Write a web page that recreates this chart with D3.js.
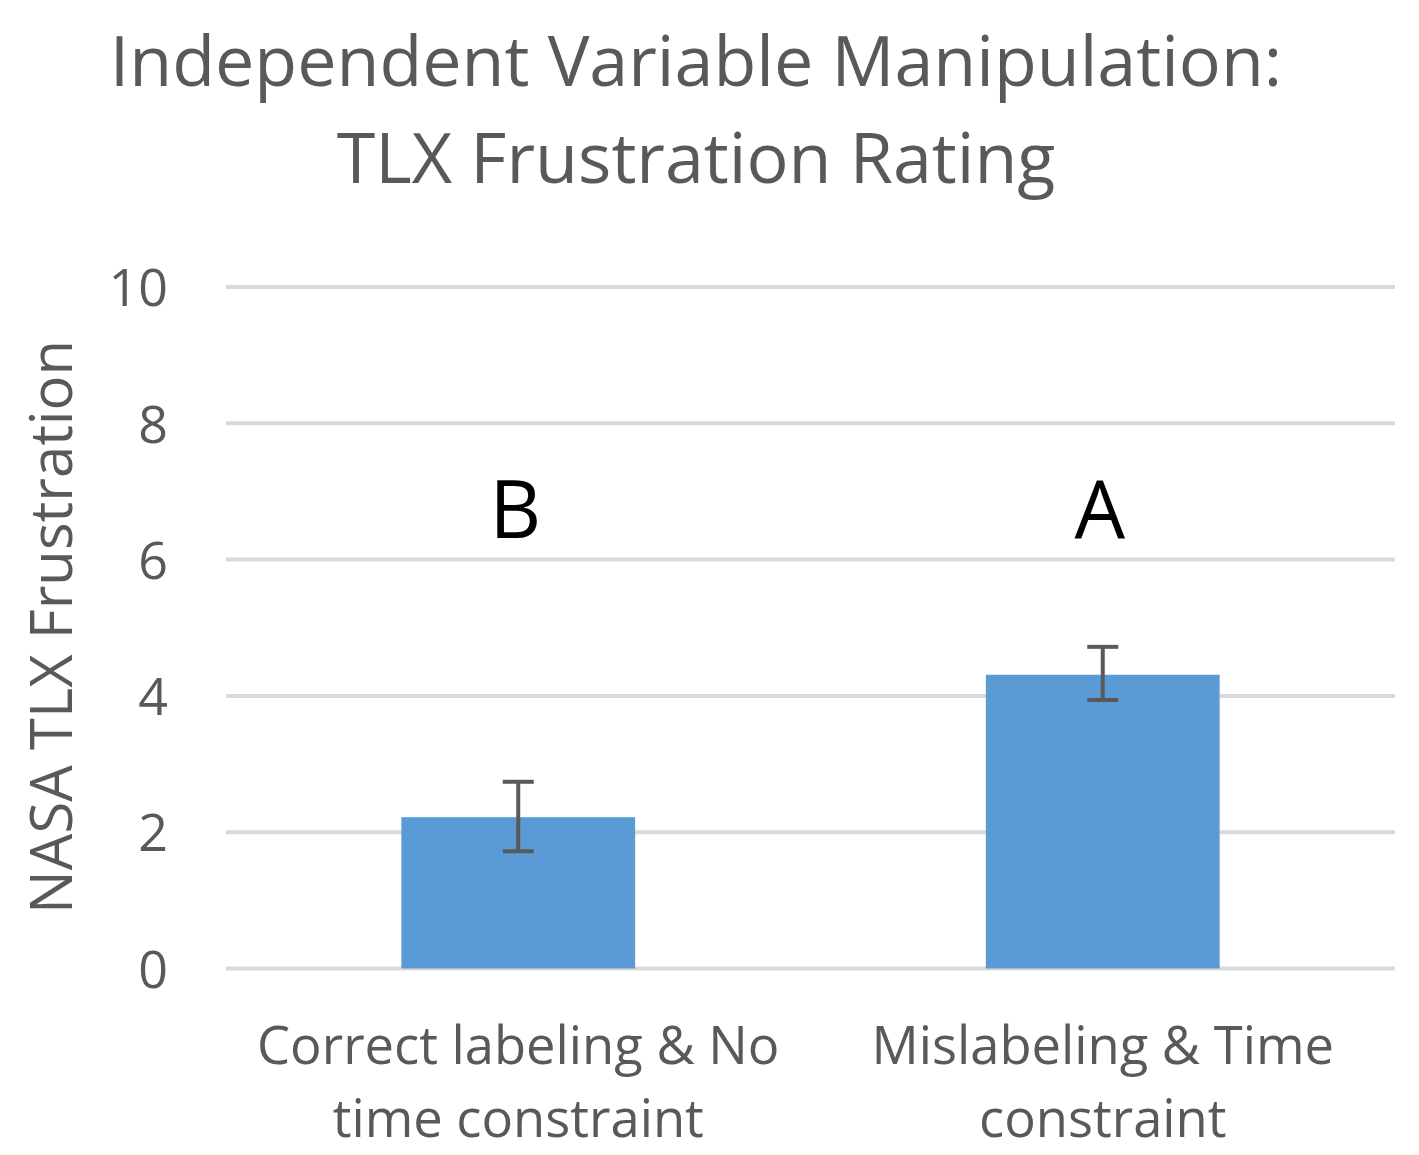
<!DOCTYPE html>
<html>
<head>
<meta charset="utf-8">
<script src="https://cdn.jsdelivr.net/npm/d3@7"></script>
<style>
  html, body { margin: 0; padding: 0; background: #ffffff; }
  svg { display: block; }
  text { font-family: "Open Sans", "DejaVu Sans", sans-serif; }
</style>
</head>
<body>
<svg id="chart" width="1419" height="1155"></svg>
<script>
// ---- data ----
const categories = [
  ["Correct labeling & No", "time constraint"],
  ["Mislabeling & Time", "constraint"]
];
const means = [2.22, 4.31];
const errLow = [1.72, 3.94];
const errHigh = [2.74, 4.72];
const sigLetters = ["B", "A"];
const yTicks = [0, 2, 4, 6, 8, 10];
const titleLines = ["Independent Variable Manipulation:", "TLX Frustration Rating"];
const yAxisTitle = "NASA TLX Frustration";

// ---- layout ----
const W = 1419, H = 1155;
const plot = { left: 226, right: 1395, top: 287, bottom: 968.5 };
const textColor = "#595959";

const svg = d3.select("#chart");

const x = d3.scaleBand()
  .domain(d3.range(categories.length))
  .range([plot.left, plot.right])
  .paddingInner(0.6)
  .paddingOuter(0.3);

const y = d3.scaleLinear().domain([0, 10]).range([plot.bottom, plot.top]);

// gridlines
svg.append("g").selectAll("line")
  .data(yTicks)
  .join("line")
  .attr("x1", plot.left)
  .attr("x2", plot.right)
  .attr("y1", d => y(d))
  .attr("y2", d => y(d))
  .attr("stroke", "#d9d9d9")
  .attr("stroke-width", 4);

// y tick labels via axis
const yAxis = d3.axisLeft(y).tickValues(yTicks).tickSize(0).tickPadding(0).tickFormat(d3.format("d"));
const gy = svg.append("g").attr("transform", `translate(168,0)`).call(yAxis);
gy.select(".domain").remove();
gy.selectAll("text")
  .attr("fill", textColor)
  .attr("font-size", 52)
  .attr("font-family", "'Open Sans', sans-serif")
  .attr("dy", "0.36em");

// bars
svg.append("g").selectAll("rect")
  .data(means)
  .join("rect")
  .attr("x", (d, i) => x(i))
  .attr("width", x.bandwidth())
  .attr("y", d => y(d))
  .attr("height", d => y(0) - y(d))
  .attr("fill", "#5b9bd5");

// error bars
const capHalf = 15.5;
const eg = svg.append("g").attr("stroke", "#595959").attr("stroke-width", 4);
means.forEach((m, i) => {
  const cx = x(i) + x.bandwidth() / 2;
  eg.append("line").attr("x1", cx).attr("x2", cx).attr("y1", y(errLow[i])).attr("y2", y(errHigh[i]));
  eg.append("line").attr("x1", cx - capHalf).attr("x2", cx + capHalf).attr("y1", y(errHigh[i])).attr("y2", y(errHigh[i]));
  eg.append("line").attr("x1", cx - capHalf).attr("x2", cx + capHalf).attr("y1", y(errLow[i])).attr("y2", y(errLow[i]));
});

// significance letters
svg.append("g").selectAll("text")
  .data(sigLetters)
  .join("text")
  .attr("x", (d, i) => x(i) + x.bandwidth() / 2 - 3)
  .attr("y", 538)
  .attr("text-anchor", "middle")
  .attr("font-size", 80)
  .attr("fill", "#000000")
  .text(d => d);

// x category labels
const xl = svg.append("g");
categories.forEach((lines, i) => {
  const cx = x(i) + x.bandwidth() / 2;
  lines.forEach((ln, j) => {
    xl.append("text")
      .attr("x", cx)
      .attr("y", 1064 + j * 73)
      .attr("text-anchor", "middle")
      .attr("font-size", 52.5)
      .attr("fill", textColor)
      .text(ln);
  });
});

// y axis title
svg.append("text")
  .attr("transform", `translate(72,627) rotate(-90)`)
  .attr("text-anchor", "middle")
  .attr("font-size", 58)
  .attr("fill", textColor)
  .text(yAxisTitle);

// chart title
svg.append("g").selectAll("text")
  .data(titleLines)
  .join("text")
  .attr("x", 696)
  .attr("y", (d, i) => 86 + i * 97)
  .attr("text-anchor", "middle")
  .attr("font-size", 70)
  .attr("fill", textColor)
  .text(d => d);
</script>
</body>
</html>
